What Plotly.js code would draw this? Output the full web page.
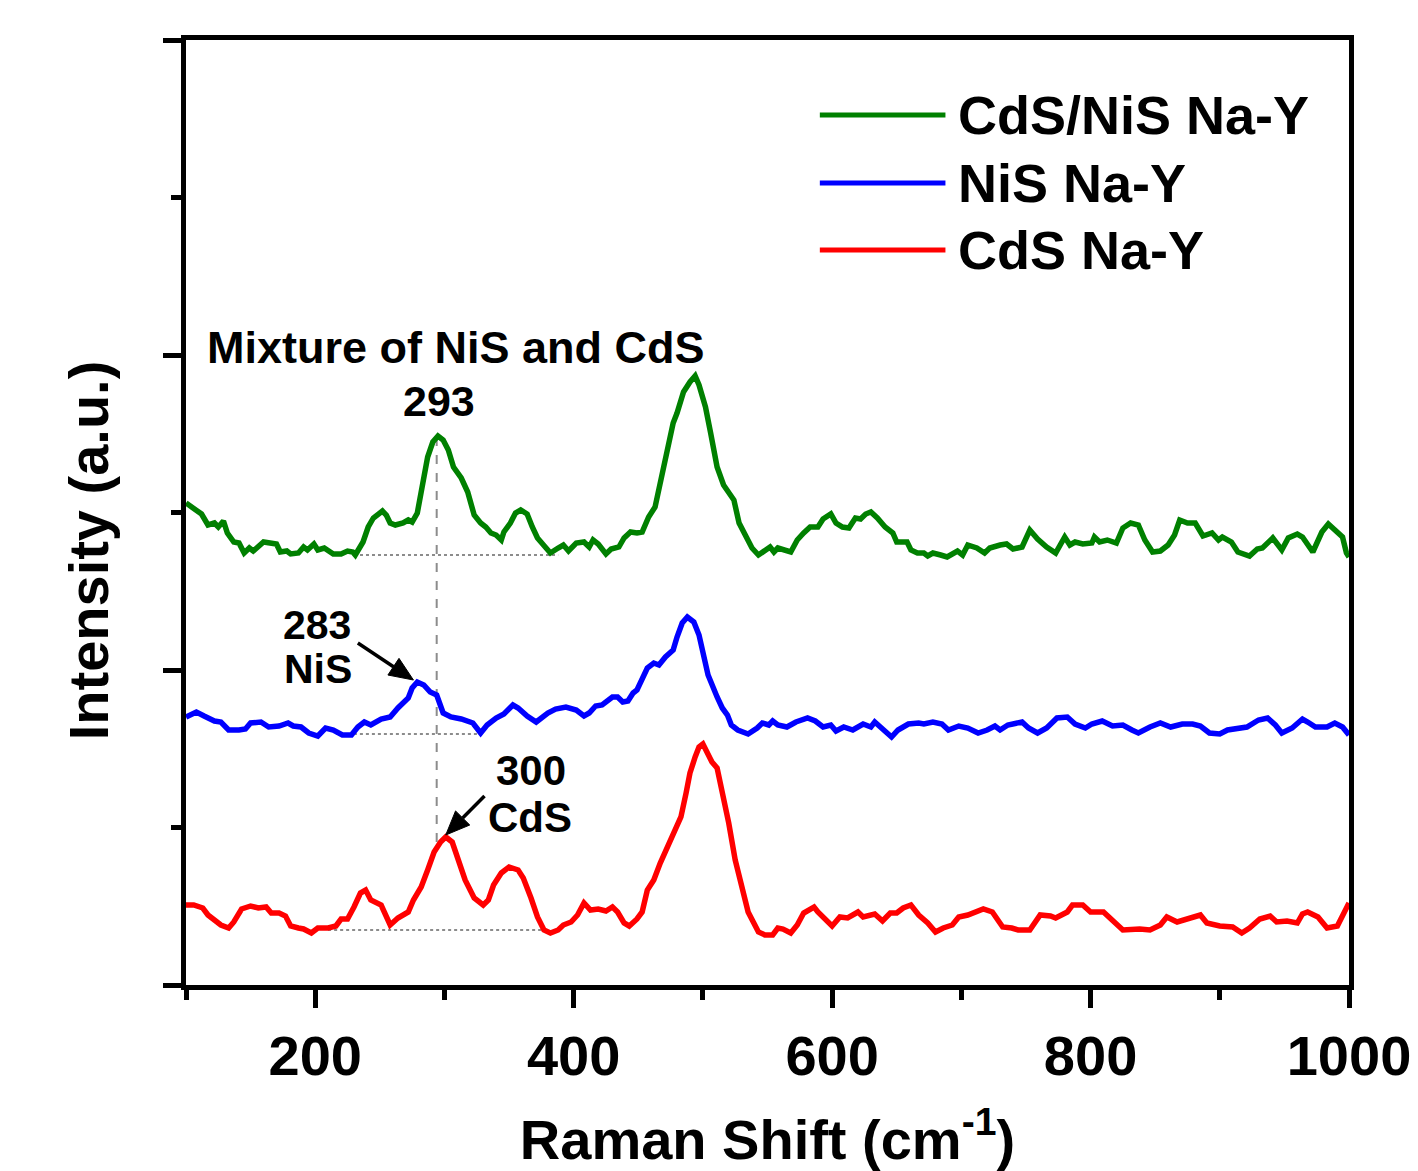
<!DOCTYPE html>
<html>
<head>
<meta charset="utf-8">
<script src="https://cdn.plot.ly/plotly-3.0.1.min.js"></script>
<style>html,body{margin:0;padding:0;background:#fff;}#chart{width:1418px;height:1171px;}</style>
</head>
<body>
<div id="chart"></div>
<script>
// ---- data (Raman shift in cm^-1, intensity in arbitrary units, curves offset as drawn) ----
const seriesNames = ["CdS/NiS Na-Y", "NiS Na-Y", "CdS Na-Y"];
const seriesColors = ["#008000", "#0000ff", "#ff0000"];

const xMix = [100,112,117,122,125,129,132,137,141,145,149,152,160,164,170,173,178,181,187,191,194,199,202,207,214,220,225,229,231,237,241,245,252,255,258,262,268,272,275,279,283,287,291,295,299,303,307,313,318,323,328,332,336,340,344,346,351,355,359,364,368,372,378,382,388,392,396,402,408,412,415,419,425,429,435,439,444,449,453,458,463,467,473,477,480,485,490,494,497,502,506,511,516,520,524,528,533,538,543,548,552,555,558,568,573,578,583,589,593,599,603,608,613,618,622,626,630,635,641,647,650,658,661,666,671,674,678,684,689,697,701,705,712,718,722,730,735,740,747,753,759,766,773,780,784,788,794,801,803,807,813,820,825,831,837,842,848,854,860,865,869,875,881,887,894,899,902,909,914,923,929,933,941,948,953,960,964,972,979,984,989,995,998,1000];
const yMix = [482,471,460,462,458,464,452,443,442,432,437,434,443,442,441,433,434,431,432,438,435,441,435,437,431,431,434,433,430,443,458,467,474,470,462,460,462,465,463,472,498,528,543,549,545,535,518,507,493,470,462,458,452,450,445,453,462,472,475,471,458,447,438,432,437,440,434,442,443,438,445,441,431,436,438,447,453,452,453,468,478,502,538,562,572,593,603,609,600,578,552,518,500,493,485,462,448,437,430,434,438,433,437,433,445,452,458,458,466,471,462,458,457,467,466,471,473,467,458,452,443,443,435,432,432,429,432,430,428,434,430,440,437,432,437,440,441,436,438,455,446,438,432,448,440,443,441,442,448,443,445,442,457,462,460,445,433,434,440,450,465,462,462,449,452,445,448,443,433,429,436,437,447,435,447,451,448,433,453,461,455,448,432,428];

const xNiS = [100,108,114,122,127,133,141,146,150,158,164,172,179,183,189,195,202,208,214,221,228,233,238,243,251,258,264,272,275,279,284,289,294,299,305,313,322,328,333,340,346,353,357,364,371,380,386,394,402,408,412,417,422,430,434,438,442,446,449,453,457,462,466,471,477,480,484,488,493,497,500,504,511,515,519,522,527,535,542,546,551,554,558,565,572,581,587,593,599,603,609,616,624,630,633,640,646,651,659,667,671,678,685,690,698,705,713,720,726,730,736,747,752,759,766,774,782,788,796,801,809,817,825,832,837,846,854,862,871,879,885,892,900,906,913,921,930,937,943,948,956,964,968,974,983,989,995,998,1000];
const yNiS = [268,273,269,264,263,255,255,256,262,263,258,259,262,259,258,252,249,257,255,250,250,258,263,260,266,268,277,287,297,303,300,293,290,272,268,266,262,252,260,267,271,280,277,269,263,272,276,278,275,269,272,279,280,288,288,283,284,292,295,307,317,322,320,328,335,348,362,368,363,350,330,310,288,277,270,260,255,251,257,262,260,264,260,258,263,267,264,258,260,254,258,255,261,258,263,255,248,255,261,262,261,263,261,255,259,257,252,255,259,255,260,263,257,252,257,267,268,261,257,261,264,259,260,255,252,258,262,258,261,261,259,252,251,255,257,258,265,267,260,252,257,266,263,258,258,262,258,252,250];

const xCdS = [100,106,113,117,122,127,133,137,143,150,156,162,166,172,177,181,187,191,197,202,210,216,220,225,230,235,239,243,251,255,258,264,272,276,282,287,292,297,301,306,311,316,323,330,334,338,344,350,357,361,367,372,377,382,388,392,398,403,408,413,419,425,430,434,439,443,449,453,457,462,467,473,479,483,487,490,494,497,500,504,507,511,515,520,525,531,535,539,543,548,554,558,562,568,573,578,586,589,595,600,606,612,620,624,633,639,645,650,655,661,667,674,680,686,693,698,705,711,717,724,732,739,744,753,761,769,773,782,786,794,800,810,817,825,838,846,854,859,867,877,885,890,900,910,917,923,931,939,944,952,960,964,968,976,983,991,998,1000];
const yCdS = [80,80,77,70,65,60,57,63,76,79,77,78,72,72,69,59,57,56,52,57,57,59,66,66,78,92,95,85,80,68,60,67,73,85,98,115,133,143,148,143,125,105,87,80,85,100,112,118,115,107,87,68,55,52,55,60,63,70,82,75,76,74,78,73,62,59,66,73,95,105,122,140,158,168,192,212,228,238,241,232,223,217,195,162,125,95,73,63,53,50,50,57,56,52,60,72,78,73,65,59,68,67,73,68,71,64,72,72,77,80,70,62,53,57,60,68,70,73,76,73,58,57,55,55,70,69,67,73,80,80,73,73,65,55,56,55,60,68,63,67,70,62,59,58,52,57,66,69,63,64,62,71,73,68,57,59,75,82];

// guide lines (baselines under the marked peaks, and the 293 cm^-1 marker)
const baseX0 = [230, 216, 210];
const baseX1 = [388, 326, 375];
const baseY  = [430, 251, 55];
const markX = 294;
const markY = [143, 549];

// axis ticks and titles
const xMin = 100, xMax = 1000, yMin = 0, yMax = 945;
const xMajor = [200, 400, 600, 800, 1000];
const xMinorStep = 100;
const yMajorStep = 315;
const yMinorStep = 157.5;
const xTitle = "Raman Shift (cm<sup>-1</sup>)";
const yTitle = "Intensity (a.u.)";

// annotation labels
const peakLabels = [
  {text: "Mixture of NiS and CdS", x: 309, y: 638, size: 45},
  {text: "293", x: 296, y: 584, size: 43},
  {text: "283", x: 201, y: 360, size: 41},
  {text: "NiS", x: 202, y: 316, size: 41},
  {text: "300", x: 367, y: 215, size: 42},
  {text: "CdS", x: 366, y: 168, size: 42}
];
const arrows = [
  {tailX: 233, tailY: 342, headX: 276, headY: 305},
  {tailX: 331, tailY: 189, headX: 301, headY: 150}
];

const FONT = "Liberation Sans, Arial, Helvetica, sans-serif";
const M = {l: 186, r: 69, t: 40, b: 186};
const W = 1418, H = 1171;

const xs = [xMix, xNiS, xCdS];
const ys = [yMix, yNiS, yCdS];
const traces = xs.map((x, i) => ({
  x: x, y: ys[i], type: "scatter", mode: "lines", name: seriesNames[i],
  line: {color: seriesColors[i], width: 5.5}, showlegend: false, hoverinfo: "skip"
}));

const shapes = [];
for (let i = 0; i < baseY.length; i++) {
  shapes.push({type: "line", xref: "x", yref: "y", x0: baseX0[i], x1: baseX1[i], y0: baseY[i], y1: baseY[i],
    line: {color: "#8c8c8c", width: 2, dash: "dot"}, layer: "below"});
}
shapes.push({type: "line", xref: "x", yref: "y", x0: markX, x1: markX, y0: markY[0], y1: markY[1],
  line: {color: "#8c8c8c", width: 2, dash: "dash"}, layer: "below"});

// arrows: shaft + filled head, built in pixel space then mapped back to data units
const kx = (W - M.l - M.r) / (xMax - xMin);
const ky = (H - M.t - M.b) / (yMax - yMin);
arrows.forEach(a => {
  const dx = (a.headX - a.tailX) * kx, dy = (a.headY - a.tailY) * ky;
  const len = Math.hypot(dx, dy), ux = dx / len, uy = dy / len;
  const L = 24, HW = 10;
  const bx = a.headX - L * ux / kx, by = a.headY - L * uy / ky;
  const p1x = bx - HW * uy / kx, p1y = by + HW * ux / ky;
  const p2x = bx + HW * uy / kx, p2y = by - HW * ux / ky;
  shapes.push({type: "line", xref: "x", yref: "y", x0: a.tailX, y0: a.tailY, x1: bx, y1: by,
    line: {color: "#000", width: 3.5}});
  shapes.push({type: "path", xref: "x", yref: "y",
    path: `M ${a.headX},${a.headY} L ${p1x},${p1y} L ${p2x},${p2y} Z`,
    fillcolor: "#000", line: {color: "#000", width: 1}});
});

// legend drawn as long line samples + labels (top right)
const legY = [0.9206, 0.8487, 0.7778];
const annotations = [];
for (let i = 0; i < seriesNames.length; i++) {
  shapes.push({type: "line", xref: "paper", yref: "paper", x0: 0.545, x1: 0.653, y0: legY[i], y1: legY[i],
    line: {color: seriesColors[i], width: 5}});
  annotations.push({xref: "paper", yref: "paper", x: 0.662, y: legY[i], xanchor: "left", yanchor: "middle",
    text: seriesNames[i], showarrow: false, font: {family: FONT, size: 54, color: "#000", weight: "bold"}});
}
peakLabels.forEach(p => annotations.push({x: p.x, y: p.y, xref: "x", yref: "y", text: p.text, showarrow: false,
  xanchor: "center", yanchor: "middle", font: {family: FONT, size: p.size, color: "#000", weight: "bold"}}));

// y-axis title (placed as rotated text, slightly below the axis centre as in the original)
annotations.push({xref: "paper", yref: "paper", x: -0.0843, y: 0.46, xanchor: "center", yanchor: "middle",
  textangle: -90, text: yTitle, showarrow: false, font: {family: FONT, size: 56, color: "#000", weight: "bold"}});

const layout = {
  width: W, height: H,
  margin: {l: M.l, r: M.r, t: M.t, b: M.b, pad: 0},
  paper_bgcolor: "#fff", plot_bgcolor: "#fff",
  font: {family: FONT, size: 56, color: "#000", weight: "bold"},
  showlegend: false,
  xaxis: {
    range: [xMin, xMax], tickmode: "array", tickvals: xMajor, ticktext: xMajor.map(String),
    ticks: "outside", ticklen: 18, tickwidth: 5, tickcolor: "#000",
    minor: {dtick: xMinorStep, tick0: 0, ticks: "outside", ticklen: 10, tickwidth: 5, tickcolor: "#000"},
    showline: true, linewidth: 5, linecolor: "#000", mirror: true,
    showgrid: false, zeroline: false,
    tickfont: {family: FONT, size: 56, color: "#000", weight: "bold"},
    title: {text: xTitle, standoff: 52, font: {family: FONT, size: 56, color: "#000", weight: "bold"}},
    automargin: false
  },
  yaxis: {
    range: [yMin, yMax], tick0: 0, dtick: yMajorStep, showticklabels: false,
    ticks: "outside", ticklen: 18, tickwidth: 5, tickcolor: "#000",
    minor: {dtick: yMinorStep, tick0: 0, ticks: "outside", ticklen: 10, tickwidth: 5, tickcolor: "#000"},
    showline: true, linewidth: 5, linecolor: "#000", mirror: true,
    showgrid: false, zeroline: false,
    automargin: false
  },
  shapes: shapes,
  annotations: annotations
};

Plotly.newPlot("chart", traces, layout, {staticPlot: true, displayModeBar: false});
</script>
</body>
</html>
